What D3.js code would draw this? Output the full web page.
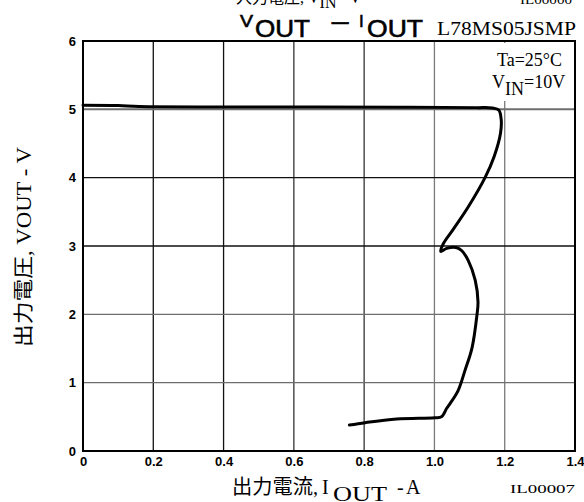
<!DOCTYPE html>
<html>
<head>
<meta charset="utf-8">
<script src="https://cdn.jsdelivr.net/npm/d3@7"></script>
<style>
  html, body { margin: 0; padding: 0; background: #fff; }
  svg { display: block; }
</style>
</head>
<body>
<div id="chart"></div>
<script>
// ---- data ----
const xTicks = [0, 0.2, 0.4, 0.6, 0.8, 1.0, 1.2, 1.4];
const xTickLabels = ["0", "0.2", "0.4", "0.6", "0.8", "1.0", "1.2", "1.4"];
const yTicks = [0, 1, 2, 3, 4, 5, 6];
const yTickLabels = ["0", "1", "2", "3", "4", "5", "6"];
// output current (A) and output voltage (V) along the curve
const iOut = [0, 0.10, 0.16, 0.50, 0.90, 1.12, 1.165, 1.183, 1.19, 1.188, 1.17, 1.144, 1.096, 1.053, 1.026, 1.018,
              1.035, 1.064, 1.078, 1.096, 1.116, 1.124, 1.121, 1.107, 1.087, 1.067, 1.044, 1.035, 1.02, 1.0, 0.893, 0.803, 0.758];
const vOut = [5.06, 5.055, 5.04, 5.035, 5.03, 5.025, 5.02, 4.99, 4.85, 4.65, 4.31, 4.0, 3.57, 3.24, 3.04, 2.92,
              2.965, 2.975, 2.93, 2.79, 2.5, 2.18, 1.99, 1.51, 1.18, 0.88, 0.69, 0.625, 0.50, 0.487, 0.468, 0.415, 0.38];

(function () {
const W = 584, H = 502;
const svg = d3.select("#chart").append("svg").attr("width", W).attr("height", H);
const x = d3.scaleLinear().domain([0, 1.4]).range([83, 575]);
const y = d3.scaleLinear().domain([0, 6]).range([451, 41]);

const sans = "'Liberation Sans', Arial, sans-serif";
const serif = "'Liberation Serif', 'Times New Roman', 'Noto Sans CJK JP', serif";

// grid
svg.append("g").selectAll("line").data(xTicks.slice(1, -1)).join("line")
  .attr("x1", d => x(d)).attr("x2", d => x(d))
  .attr("y1", y(6)).attr("y2", y(0))
  .attr("stroke", d => d >= 1.0 ? "#7a7a7a" : (d >= 0.6 ? "#333" : "#111"))
  .attr("stroke-width", 1.3);
svg.append("g").selectAll("line").data(yTicks.slice(1, -1)).join("line")
  .attr("x1", x(0)).attr("x2", x(1.4))
  .attr("y1", d => y(d)).attr("y2", d => y(d))
  .attr("stroke", d => (d === 5 || d <= 2) ? "#6e6e6e" : "#111")
  .attr("stroke-width", d => d === 5 ? 2 : 1.3);

// white box behind conditions
svg.append("rect").attr("x", 488).attr("y", 43).attr("width", 85).attr("height", 58).attr("fill", "#fff");

// frame
svg.append("rect").attr("x", x(0)).attr("y", y(6))
  .attr("width", x(1.4) - x(0)).attr("height", y(0) - y(6))
  .attr("fill", "none").attr("stroke", "#000").attr("stroke-width", 2);

// axes (labels only)
const xAxis = d3.axisBottom(x).tickValues(xTicks).tickFormat((d, i) => xTickLabels[i]).tickSize(0).tickPadding(6);
const gx = svg.append("g").attr("transform", `translate(0,${y(0)})`).call(xAxis);
gx.select(".domain").remove();
gx.selectAll("text").attr("font-family", sans).attr("font-weight", "bold").attr("font-size", 13).attr("fill", "#000");

const yAxis = d3.axisLeft(y).tickValues(yTicks).tickFormat((d, i) => yTickLabels[i]).tickSize(0).tickPadding(7);
const gy = svg.append("g").attr("transform", `translate(${x(0)},0)`).call(yAxis);
gy.select(".domain").remove();
gy.selectAll("text").attr("font-family", sans).attr("font-weight", "bold").attr("font-size", 13).attr("fill", "#000");

// curve
const pts = iOut.map((d, i) => [d, vOut[i]]);
const line = d3.line().x(d => x(d[0])).y(d => y(d[1])).curve(d3.curveCatmullRom.alpha(0.5));
svg.append("path").datum(pts).attr("d", line)
  .attr("fill", "none").attr("stroke", "#000").attr("stroke-width", 3)
  .attr("stroke-linejoin", "round").attr("stroke-linecap", "round");

// top line (clipped by the page edge, as in the original)
const topLine = svg.append("text").attr("font-family", serif).attr("font-size", 16).attr("fill", "#000");
topLine.append("tspan").attr("x", 236).attr("y", 3).text("入力電圧, V");
topLine.append("tspan").attr("dy", 5).text("IN");
topLine.append("tspan").attr("dy", -5).text("  -  V");
svg.append("text").attr("x", 520).attr("y", 4).attr("font-family", serif).attr("font-size", 13)
  .attr("textLength", 52).attr("lengthAdjust", "spacingAndGlyphs").text("IL00000");

// title
function t(txt, xx, yy, size, len, fam) {
  const e = svg.append("text").attr("x", xx).attr("y", yy).attr("font-family", fam || sans)
    .attr("font-size", size).attr("fill", "#000").text(txt);
  if (!fam) e.attr("stroke", "#000").attr("stroke-width", 0.6);
  if (len) e.attr("textLength", len).attr("lengthAdjust", "spacingAndGlyphs");
  return e;
}
t("V", 240, 27, 17, 13);
t("OUT", 255, 37, 24, 55);
t("−", 330, 31, 24, 20);
t("I", 359, 27, 17);
t("OUT", 367, 37, 24, 56);

svg.append("text").attr("x", 437).attr("y", 35).attr("font-family", serif).attr("font-size", 19)
  .attr("textLength", 139).attr("lengthAdjust", "spacingAndGlyphs").text("L78MS05JSMP");

// conditions
svg.append("text").attr("x", 497).attr("y", 66).attr("font-family", serif).attr("font-size", 18)
  .attr("textLength", 65).attr("lengthAdjust", "spacingAndGlyphs").text("Ta=25°C");
const vin = svg.append("text").attr("font-family", serif).attr("font-size", 18).attr("fill", "#000");
vin.append("tspan").attr("x", 492).attr("y", 88).text("V");
vin.append("tspan").attr("dy", 7).text("IN");
vin.append("tspan").attr("dy", -7).text("=10V");

// x axis title
t("出力電流,", 232, 494, 20, 86, serif);
t("I", 322, 494, 20, null, serif);
t("OUT", 333, 501, 20, 54, serif);
t("-", 397, 494, 20, null, serif);
t("A", 406, 494, 20, null, serif);
svg.append("text").attr("x", 510).attr("y", 493).attr("font-family", serif).attr("font-size", 13)
  .attr("textLength", 65).attr("lengthAdjust", "spacingAndGlyphs").text("IL00007");

// y axis title
svg.append("text").attr("transform", "translate(31,247) rotate(-90)")
  .attr("text-anchor", "middle").attr("font-family", serif).attr("font-size", 20).attr("fill", "#000")
  .attr("textLength", 200).attr("lengthAdjust", "spacingAndGlyphs")
  .text("出力電圧, VOUT - V");
})();
</script>
</body>
</html>
